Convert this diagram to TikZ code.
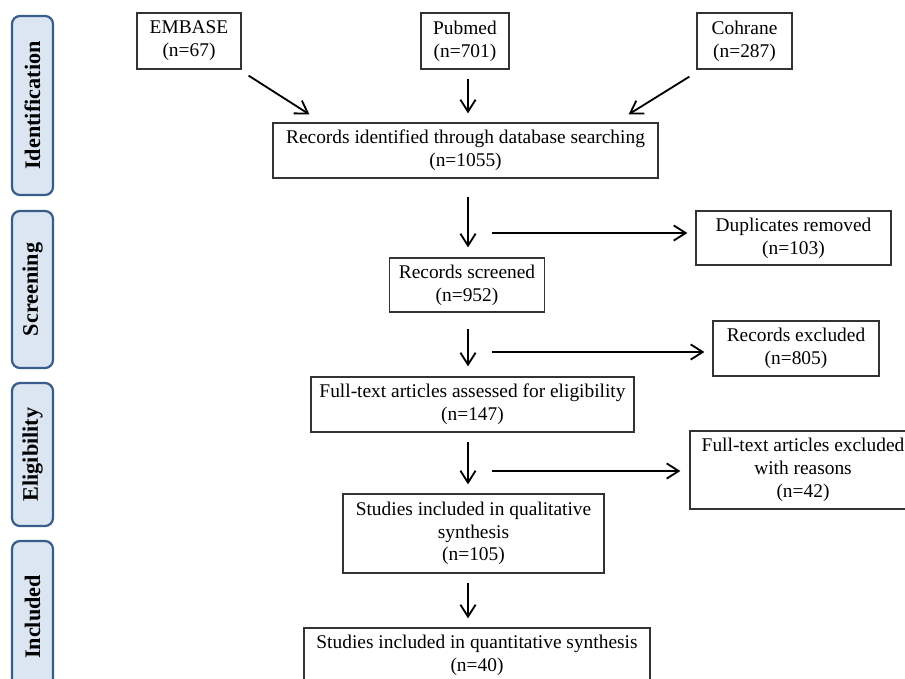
\documentclass[tikz,border=0pt]{standalone}
\usepackage{fontspec}
\setmainfont{Liberation Serif}
\usetikzlibrary{arrows.meta}

\definecolor{phasefill}{HTML}{DCE6F2}
\definecolor{phaseline}{HTML}{385D8A}

\begin{document}
\begin{tikzpicture}[
    x=0.25mm, y=-0.25mm,
    box/.style={draw=black!80, line width=0.9pt, align=center, inner sep=2pt,
        font=\fontsize{13.8}{16.2}\selectfont},
    phase/.style={draw=phaseline, fill=phasefill, line width=1.6pt, rounded corners=2mm,
        rotate=90, minimum height=10.25mm, inner sep=2pt,
        font=\bfseries\fontsize{15.8}{17}\selectfont},
    arrow/.style={-{Straight Barb[length=3mm, width=3.8mm]}, line width=1.3pt,
        shorten <=2.25mm, shorten >=2.25mm},
    side/.style={-{Straight Barb[length=3mm, width=3.8mm]}, line width=1.3pt,
        shorten >=2mm}
]
\useasboundingbox (0,0) rectangle (905,678);
\clip (0,0) rectangle (905,678);

% phases on the left
\node[phase, minimum width=44.75mm] (ident) at (32.5,105.5) {Identification};
\node[phase, minimum width=39.25mm] (screen) at (32.5,289.5) {Screening};
\node[phase, minimum width=35.75mm] (elig) at (32.5,454.5) {Eligibility};
\node[phase, minimum width=38mm] (incl) at (32.5,617) {Included};

% databases
\node[box, minimum width=26mm, minimum height=14mm] (embase) at (189,41) {EMBASE\\(n=67)};
\node[box, minimum width=22mm, minimum height=14mm] (pubmed) at (465,41) {Pubmed\\(n=701)};
\node[box, minimum width=23.75mm, minimum height=14mm] (cohrane) at (744.5,41) {Cohrane\\(n=287)};

% main column
\node[box, minimum width=96.25mm, minimum height=13.75mm] (records) at (465.5,150.5)
    {Records identified through database searching\\(n=1055)};
\node[box, minimum width=38.75mm, minimum height=13.5mm] (screened) at (467,285)
    {Records screened\\(n=952)};
\node[box, minimum width=80.75mm, minimum height=13.75mm] (assessed) at (472.5,404.5)
    {Full-text articles assessed for eligibility\\(n=147)};
\node[box, minimum width=65.25mm, minimum height=19.75mm] (qualitative) at (473.5,533.5)
    {Studies included in qualitative\\synthesis\\(n=105)};
\node[box, minimum width=86.5mm, minimum height=13.75mm] (quantitative) at (477,655.5)
    {Studies included in quantitative synthesis\\(n=40)};

% removed on the right
\node[box, minimum width=48.75mm, minimum height=13.5mm] (dups) at (793.5,238)
    {Duplicates removed\\(n=103)};
\node[box, minimum width=41.5mm, minimum height=13.75mm] (excluded) at (796,348.5)
    {Records excluded\\(n=805)};
\node[box, minimum width=56.5mm, minimum height=19.5mm] (ftexcl) at (803,470)
    {Full-text articles excluded\\with reasons\\(n=42)};

% arrows
\coordinate (spine) at (468,0);
\draw[arrow, shorten <=0pt, shorten >=0pt] ([shift={(7,6)}]embase.south east) -- ([shift={(37,-8)}]records.north west);
\draw[arrow] (pubmed.south -| spine) -- (records.north -| spine);
\draw[arrow, shorten <=0pt, shorten >=0pt] ([shift={(-7,7)}]cohrane.south west) -- ([shift={(-30,-8)}]records.north east);

\draw[arrow, shorten <=4.5mm, shorten >=2.5mm] (records.south -| spine) -- (screened.north -| spine);
\draw[arrow, shorten <=4mm, shorten >=2.5mm] (screened.south -| spine) -- (assessed.north -| spine);
\draw[arrow] (assessed.south -| spine) -- (qualitative.north -| spine);
\draw[arrow] (qualitative.south -| spine) -- (quantitative.north -| spine);

\coordinate (tap1) at (492,233);
\coordinate (tap2) at (492,352);
\coordinate (tap3) at (492,471);
\draw[side] (tap1) -- (tap1 -| dups.west);
\draw[side] (tap2) -- (tap2 -| excluded.west);
\draw[side, shorten >=2.25mm] (tap3) -- (tap3 -| ftexcl.west);

\end{tikzpicture}
\end{document}
